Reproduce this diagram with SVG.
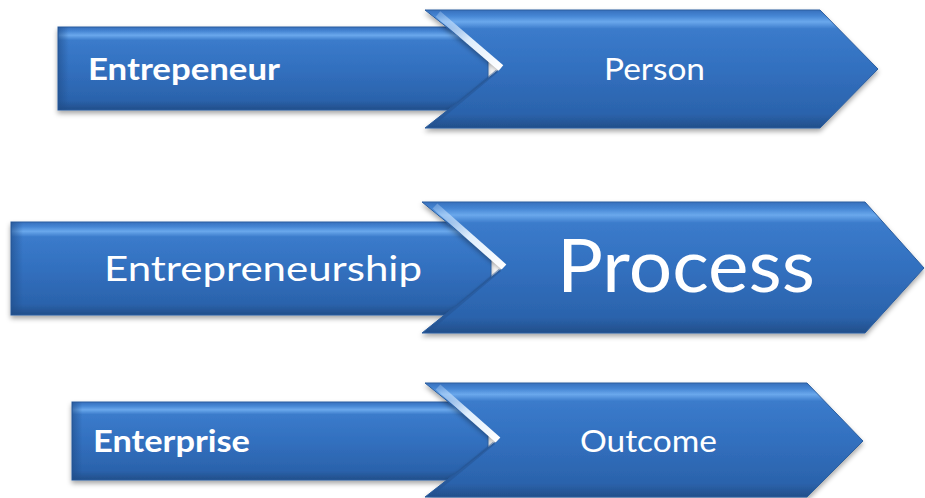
<svg xmlns="http://www.w3.org/2000/svg" width="925" height="498" viewBox="0 0 925 498">
  <defs>
    <linearGradient id="blue" x1="0" y1="0" x2="0" y2="1">
      <stop offset="0" stop-color="#3670bd"/>
      <stop offset="0.05" stop-color="#4686d4"/>
      <stop offset="0.1" stop-color="#6aa8ec"/>
      <stop offset="0.16" stop-color="#3b7bcb"/>
      <stop offset="0.5" stop-color="#3270bf"/>
      <stop offset="0.88" stop-color="#2b63ac"/>
      <stop offset="1" stop-color="#224e8a"/>
    </linearGradient>
    <linearGradient id="side" x1="0" y1="0" x2="1" y2="0">
      <stop offset="0" stop-color="#1f4c88" stop-opacity="0.6"/>
      <stop offset="0.025" stop-color="#1f4c88" stop-opacity="0"/>
      <stop offset="1" stop-color="#1f4c88" stop-opacity="0"/>
    </linearGradient>
    <linearGradient id="notchHi" x1="0" y1="0" x2="1" y2="1">
      <stop offset="0" stop-color="#cfe6ff" stop-opacity="0.3"/>
      <stop offset="0.5" stop-color="#e8f4ff" stop-opacity="0.95"/>
      <stop offset="1" stop-color="#ffffff" stop-opacity="1"/>
    </linearGradient>
    <filter id="shadow" x="-5%" y="-10%" width="110%" height="130%">
      <feGaussianBlur in="SourceAlpha" stdDeviation="2.5"/>
      <feOffset dx="0" dy="3" result="b"/>
      <feFlood flood-color="#000" flood-opacity="0.35"/>
      <feComposite in2="b" operator="in"/>
      <feMerge><feMergeNode/><feMergeNode in="SourceGraphic"/></feMerge>
    </filter>
  </defs>
  <style>
    .shape { fill: url(#blue); stroke: #2b5e9f; stroke-width: 1; filter: url(#shadow); }
    .edge { fill: url(#side); stroke: none; }
    .hi { stroke: url(#notchHi); stroke-width: 7; stroke-linecap: butt; fill: none; }
    .lo { stroke: #23528f; stroke-opacity: 0.5; stroke-width: 3; fill: none; }
    .t { fill: #ffffff; font-family: Lato, "Open Sans", "Liberation Sans", sans-serif; }
    .b { font-weight: bold; }
  </style>

  <g id="row1-term">
    <rect class="shape" x="58" y="27" width="430" height="83"/>
    <rect class="edge" x="58" y="27" width="430" height="83"/>
    <text class="t b" x="88" y="80" font-size="31" textLength="192" lengthAdjust="spacingAndGlyphs">Entrepeneur</text>
  </g>
  <g id="row1-meaning">
    <path class="shape" d="M425,10 L820,10 L878,69 L820,128 L425,128 L500,69 Z"/>
    <line class="hi" x1="438" y1="14" x2="501" y2="68"/>
    <line class="lo" x1="497" y1="71" x2="432" y2="125"/>
    <text class="t" x="604" y="80" font-size="31" textLength="101" lengthAdjust="spacingAndGlyphs">Person</text>
  </g>

  <g id="row2-term">
    <rect class="shape" x="11" y="222" width="480" height="93"/>
    <rect class="edge" x="11" y="222" width="480" height="93"/>
    <text class="t" x="104" y="281" font-size="35" textLength="318" lengthAdjust="spacingAndGlyphs">Entrepreneurship</text>
  </g>
  <g id="row2-meaning">
    <path class="shape" d="M422,202 L865,202 L924,268 L865,333 L422,333 L503,268 Z"/>
    <line class="hi" x1="435" y1="206" x2="504" y2="267"/>
    <line class="lo" x1="500" y1="270" x2="429" y2="330"/>
    <text class="t" x="557" y="292" font-size="74" textLength="258" lengthAdjust="spacingAndGlyphs">Process</text>
  </g>

  <g id="row3-term">
    <rect class="shape" x="72" y="402" width="416" height="78"/>
    <rect class="edge" x="72" y="402" width="416" height="78"/>
    <text class="t b" x="93" y="452" font-size="31" textLength="157" lengthAdjust="spacingAndGlyphs">Enterprise</text>
  </g>
  <g id="row3-meaning">
    <path class="shape" d="M425,383 L807,383 L863,441 L807,497 L425,497 L497,441 Z"/>
    <line class="hi" x1="438" y1="387" x2="498" y2="440"/>
    <line class="lo" x1="494" y1="443" x2="432" y2="494"/>
    <text class="t" x="580" y="452" font-size="31" textLength="137" lengthAdjust="spacingAndGlyphs">Outcome</text>
  </g>

  <g id="connectors"/>
</svg>
